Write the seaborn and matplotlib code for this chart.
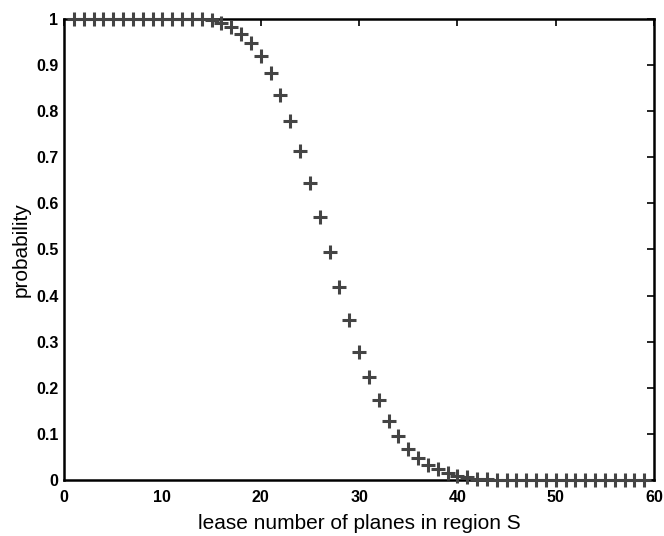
import numpy as np
import pandas as pd
import matplotlib
matplotlib.use("Agg")
from matplotlib import pyplot as plt
import seaborn as sns

sns.set_style("white")
plt.rcParams['font.family'] = ['Liberation Sans', 'DejaVu Sans']

# values
planes = list(range(1, 60))
prob_head = [1.0] * 14  # x = 1..14
prob_mid = [0.998, 0.991, 0.983, 0.968, 0.947, 0.920, 0.882, 0.835, 0.779,
            0.714, 0.645, 0.571, 0.494, 0.418, 0.347, 0.278, 0.223, 0.173,
            0.129, 0.096, 0.067, 0.047, 0.033, 0.023, 0.0145, 0.0087, 0.006,
            0.003, 0.0015]  # x = 15..43
prob_tail = [0.0] * 16  # x = 44..59
probability = prob_head + prob_mid + prob_tail

x_ticks = [0, 10, 20, 30, 40, 50, 60]
y_ticks = [0, 0.1, 0.2, 0.3, 0.4, 0.5, 0.6, 0.7, 0.8, 0.9, 1]
y_labels = ['0', '0.1', '0.2', '0.3', '0.4', '0.5', '0.6', '0.7', '0.8', '0.9', '1']

df = pd.DataFrame({'planes': planes, 'probability': probability})

fig = plt.figure(figsize=(6.64, 5.36), dpi=100)
ax = fig.add_axes([0.0964, 0.1045, 0.8886, 0.8601])

sns.scatterplot(data=df, x='planes', y='probability', marker='+', s=100,
                color='#444444', linewidth=2.2, ax=ax, clip_on=False, zorder=3)

ax.set_xlim(0, 60)
ax.set_ylim(0, 1)
ax.set_xticks(x_ticks)
ax.set_xticklabels([str(t) for t in x_ticks])
ax.set_yticks(y_ticks)
ax.set_yticklabels(y_labels)
ax.tick_params(direction='in', length=5, width=1.2, top=True, right=True,
               labelsize=11.5, colors='black')
ax.tick_params(axis='x', pad=7)
ax.tick_params(axis='y', pad=4)
for lab in ax.get_xticklabels() + ax.get_yticklabels():
    lab.set_fontweight('bold')
for sp in ax.spines.values():
    sp.set_color('black')
    sp.set_linewidth(1.8)

ax.set_xlabel('lease number of planes in region S', fontsize=15, labelpad=7,
              color='black')
ax.set_ylabel('probability', fontsize=15, labelpad=4, color='black')

fig.savefig('out.png', dpi=100)
